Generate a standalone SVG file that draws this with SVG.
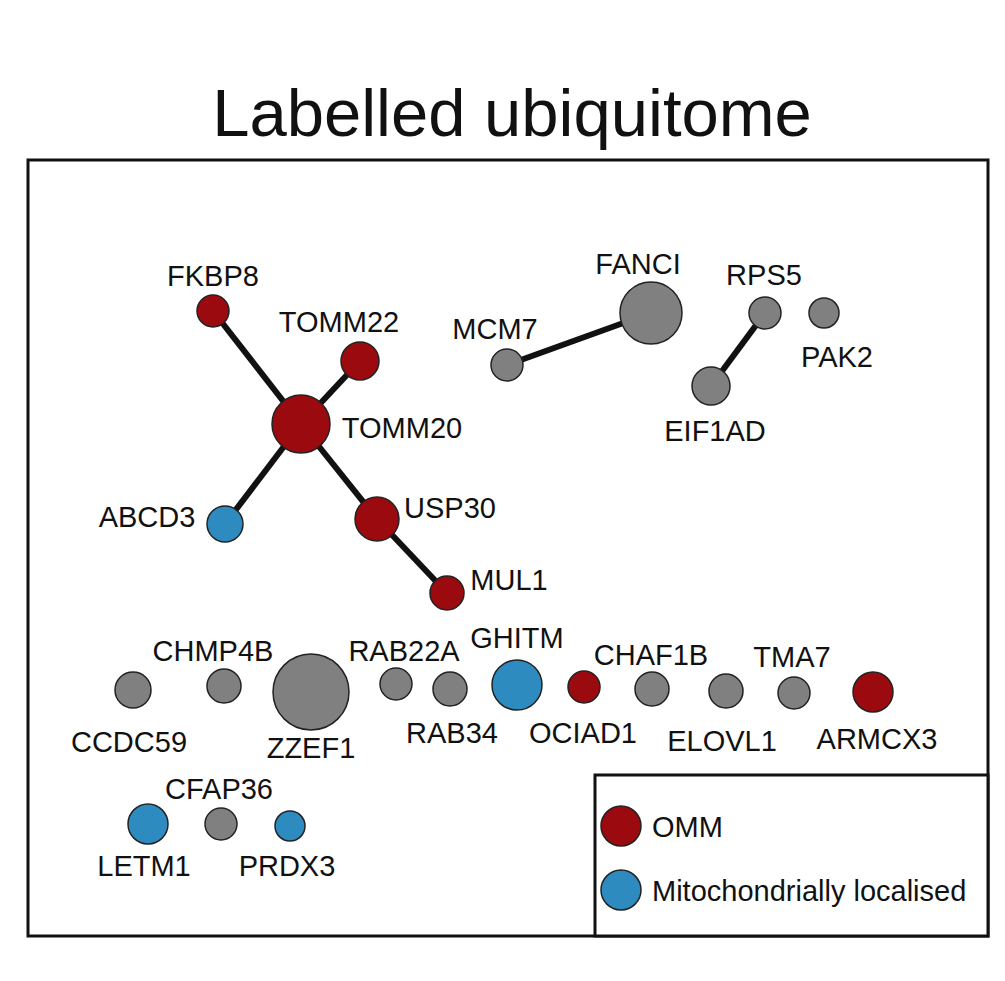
<svg xmlns="http://www.w3.org/2000/svg" width="1005" height="981" viewBox="0 0 1005 981">
<style>
text{font-family:"Liberation Sans",Arial,sans-serif;font-size:29px;fill:#111;text-anchor:middle}
.r{fill:#9B0A0E;stroke:#222;stroke-width:1.5}
.b{fill:#2E8BC0;stroke:#222;stroke-width:1.5}
.g{fill:#808080;stroke:#222;stroke-width:1.5}
.e{stroke:#111;stroke-width:6}
</style>
<rect width="1005" height="981" fill="#fff"/>
<text x="512" y="136" style="font-size:67px">Labelled ubiquitome</text>
<rect x="28" y="160" width="960" height="776" fill="none" stroke="#111" stroke-width="3"/>
<g id="connectors">
<line class="e" x1="213" y1="311" x2="301" y2="424"/>
<line class="e" x1="360" y1="361" x2="301" y2="424"/>
<line class="e" x1="301" y1="424" x2="225" y2="524"/>
<line class="e" x1="301" y1="424" x2="377" y2="519"/>
<line class="e" x1="377" y1="519" x2="447" y2="593"/>
<line class="e" x1="507" y1="365" x2="651" y2="313"/>
<line class="e" x1="765" y1="313" x2="711" y2="386"/>
</g>
<g id="FKBP8"><circle class="r" cx="213" cy="311" r="16"/><text x="213" y="286">FKBP8</text></g>
<g id="TOMM22"><circle class="r" cx="360" cy="361" r="19"/><text x="339" y="332">TOMM22</text></g>
<g id="TOMM20"><circle class="r" cx="301" cy="424" r="29"/><text x="402" y="438">TOMM20</text></g>
<g id="ABCD3"><circle class="b" cx="225" cy="524" r="18"/><text x="147" y="527">ABCD3</text></g>
<g id="USP30"><circle class="r" cx="377" cy="519" r="22"/><text x="450" y="518">USP30</text></g>
<g id="MUL1"><circle class="r" cx="447" cy="593" r="17"/><text x="509" y="590">MUL1</text></g>
<g id="MCM7"><circle class="g" cx="507" cy="365" r="16"/><text x="495" y="339">MCM7</text></g>
<g id="FANCI"><circle class="g" cx="651" cy="313" r="31"/><text x="638" y="274">FANCI</text></g>
<g id="RPS5"><circle class="g" cx="765" cy="313" r="16"/><text x="764" y="285">RPS5</text></g>
<g id="PAK2"><circle class="g" cx="824" cy="313" r="15"/><text x="837" y="367">PAK2</text></g>
<g id="EIF1AD"><circle class="g" cx="711" cy="386" r="19"/><text x="715" y="441">EIF1AD</text></g>
<g id="CCDC59"><circle class="g" cx="133" cy="690" r="18"/><text x="129" y="752">CCDC59</text></g>
<g id="CHMP4B"><circle class="g" cx="224" cy="686" r="17"/><text x="213" y="661">CHMP4B</text></g>
<g id="ZZEF1"><circle class="g" cx="311" cy="692" r="38"/><text x="311" y="758">ZZEF1</text></g>
<g id="RAB22A"><circle class="g" cx="396" cy="684" r="16"/><text x="404" y="661">RAB22A</text></g>
<g id="RAB34"><circle class="g" cx="450" cy="689" r="17"/><text x="452" y="743">RAB34</text></g>
<g id="GHITM"><circle class="b" cx="517" cy="685" r="25"/><text x="517" y="648">GHITM</text></g>
<g id="OCIAD1"><circle class="r" cx="584" cy="687" r="16"/><text x="583" y="743">OCIAD1</text></g>
<g id="CHAF1B"><circle class="g" cx="652" cy="689" r="17"/><text x="651" y="665">CHAF1B</text></g>
<g id="ELOVL1"><circle class="g" cx="726" cy="691" r="17"/><text x="722" y="751">ELOVL1</text></g>
<g id="TMA7"><circle class="g" cx="794" cy="693" r="16"/><text x="792" y="667">TMA7</text></g>
<g id="ARMCX3"><circle class="r" cx="873" cy="692" r="20"/><text x="877" y="749">ARMCX3</text></g>
<g id="LETM1"><circle class="b" cx="148" cy="824" r="20"/><text x="144" y="876">LETM1</text></g>
<g id="CFAP36"><circle class="g" cx="221" cy="824" r="16"/><text x="219" y="799">CFAP36</text></g>
<g id="PRDX3"><circle class="b" cx="290" cy="826" r="15"/><text x="287" y="876">PRDX3</text></g>
<g id="legend">
<rect x="595" y="775" width="393" height="161" fill="#fff" stroke="#111" stroke-width="3"/>
<circle class="r" cx="621" cy="826" r="20"/><text x="652" y="837" style="text-anchor:start">OMM</text>
<circle class="b" cx="621" cy="890" r="20"/><text x="652" y="901" style="text-anchor:start">Mitochondrially localised</text>
</g>
</svg>
